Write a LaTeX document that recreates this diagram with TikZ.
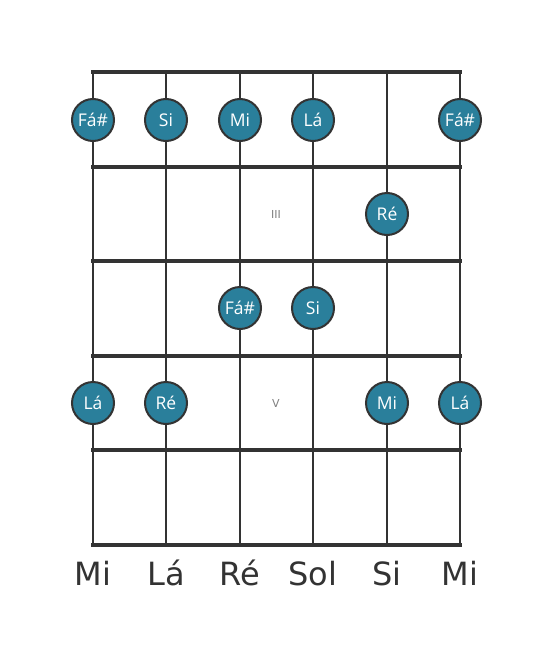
\documentclass[tikz,border=0pt]{standalone}
\usepackage{fontspec}
\setmainfont{DejaVu Sans}
\newfontfamily\notefont{Open Sans}
\definecolor{dotblue}{HTML}{2A7F9B}
\definecolor{linegray}{HTML}{333333}
\begin{document}
\begin{tikzpicture}[x=1pt,y=-1pt,
  fretline/.style={line width=4.5pt,draw=linegray},
  stringline/.style={line width=2.8pt,draw=linegray},
  notedot/.style={circle,fill=dotblue,draw=linegray,line width=2pt,minimum size=42pt,inner sep=0pt,text=white,font=\notefont\fontsize{17.5}{17.5}\selectfont},
  roman/.style={text=gray,font=\fontsize{11}{11}\selectfont},
  strlabel/.style={text=linegray,font=\fontsize{32}{32}\selectfont,anchor=base}]
\useasboundingbox[fill=white] (0,0) rectangle (553,656);
% string coordinates
\foreach \n/\x in {1/93,2/166,3/240,4/313,5/387,6/460}{
  \coordinate (s\n top) at (\x,72);
  \coordinate (s\n bot) at (\x,545);
}
\foreach \n in {1,...,6}{\draw[stringline] (s\n top) -- (s\n bot);}
\foreach \f/\y in {0/72,1/167,2/261,3/356,4/450,5/545}{
  \coordinate (f\f l) at (93,\y);
  \coordinate (f\f r) at (460,\y);
  \draw[fretline,line cap=rect] (f\f l) -- (f\f r);
}
\node[roman] (r3) at (276,214) {III};
\node[roman] (r5) at (276,403) {V};
% notes
\node[notedot] (n1) at (93,120) {Fá\#};
\node[notedot] (n2) at (166,120) {Si};
\node[notedot] (n3) at (240,120) {Mi};
\node[notedot] (n4) at (313,120) {Lá};
\node[notedot] (n5) at (460,120) {Fá\#};
\node[notedot] (n6) at (387,214) {Ré};
\node[notedot] (n7) at (240,308) {Fá\#};
\node[notedot] (n8) at (313,308) {Si};
\node[notedot] (n9) at (93,403) {Lá};
\node[notedot] (n10) at (166,403) {Ré};
\node[notedot] (n11) at (387,403) {Mi};
\node[notedot] (n12) at (460,403) {Lá};
% string names
\node[strlabel] (l1) at (93,585) {Mi};
\node[strlabel] (l2) at (166,585) {Lá};
\node[strlabel] (l3) at (240,585) {Ré};
\node[strlabel] (l4) at (313,585) {Sol};
\node[strlabel] (l5) at (387,585) {Si};
\node[strlabel] (l6) at (460,585) {Mi};
\end{tikzpicture}
\end{document}
